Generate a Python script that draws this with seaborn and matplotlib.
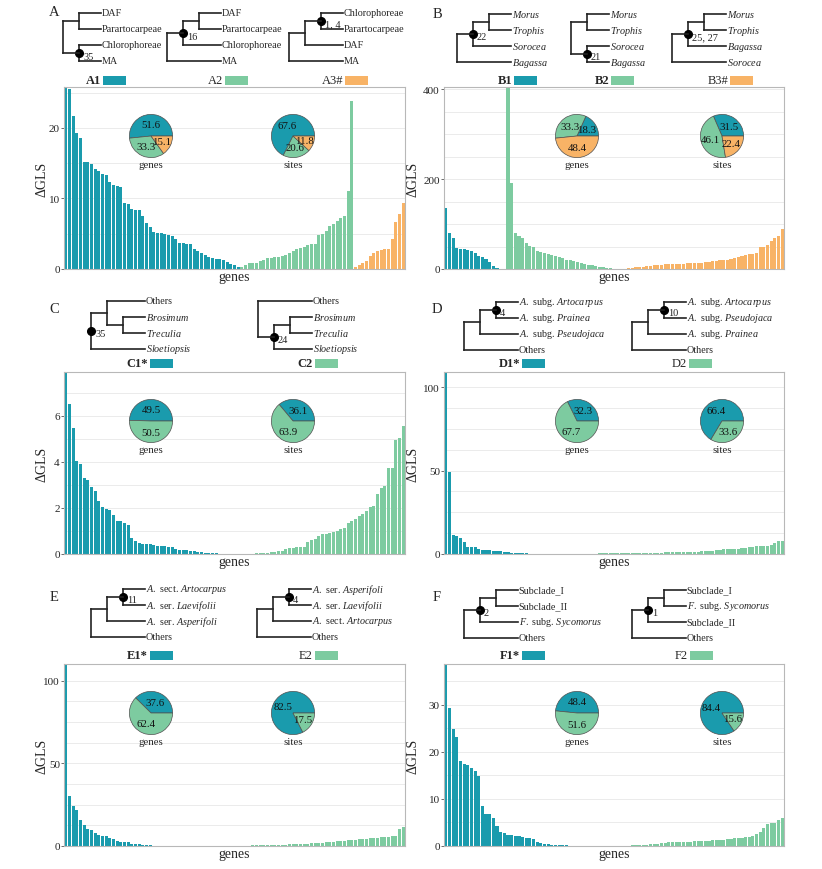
import numpy as np
import pandas as pd
import seaborn as sns
import matplotlib.pyplot as plt
from matplotlib.ticker import MultipleLocator

sns.set_theme(style='white')
plt.rcParams['font.family'] = ['Liberation Serif', 'DejaVu Serif']
plt.rcParams['mathtext.fontset'] = 'custom'
plt.rcParams['mathtext.rm'] = 'Liberation Serif'
plt.rcParams['mathtext.it'] = 'Liberation Serif:italic'

W, H = 822, 870
TEAL, GREEN, ORANGE = '#1a9bad', '#7dcba0', '#f8b366'


def it(s):
    return r'$\mathit{' + s + '}$'


# ---- panel A ----
a_names = ['A1', 'A2', 'A3#']
a_bold = [True, False, False]
a1 = [25.8, 25.5, 21.7, 19.3, 18.6, 15.1, 15.1, 14.9, 14.2, 13.9,
      13.5, 13.3, 12.4, 11.9, 11.8, 11.6, 9.3, 9.2, 8.5, 8.4,
      8.4, 7.5, 6.5, 6.0, 5.2, 5.1, 5.1, 4.9, 4.8, 4.7,
      4.3, 3.7, 3.7, 3.6, 3.5, 2.9, 2.6, 2.3, 2.0, 1.7,
      1.5, 1.4, 1.4, 1.3, 1.0, 0.7, 0.5, 0.3]
a2 = [0.3, 0.5, 0.8, 0.85, 0.9, 1.1, 1.3, 1.5, 1.6, 1.7,
      1.75, 1.8, 2.0, 2.3, 2.5, 2.8, 3.0, 3.1, 3.4, 3.5,
      3.5, 4.8, 5.0, 5.4, 6.1, 6.4, 6.8, 7.2, 7.5, 11.0, 23.8]
a3 = [0.3, 0.6, 0.8, 1.2, 1.8, 2.2, 2.6, 2.7, 2.9, 2.9, 4.3, 6.7, 7.8, 9.3]
a_genes = [51.6, 33.3, 15.1]
a_sites = [67.6, 20.6, 11.8]
a_trees = [(('DAF', 'Parartocarpeae'), ('Chlorophoreae', 'MA')),
           ((('DAF', 'Parartocarpeae'), 'Chlorophoreae'), 'MA'),
           ((('Chlorophoreae', 'Parartocarpeae'), 'DAF'), 'MA')]
a_support = ['35', '16', '1, 4']
a_dot = [(1,), (0,), (0, 0)]

# ---- panel B ----
b_names = ['B1', 'B2', 'B3#']
b_bold = [True, True, False]
b1 = [135, 81, 70, 46, 45, 44, 42, 39, 35, 30, 26, 22, 15, 7, 2, 0.5, 0.2]
b2 = [405, 192, 80, 73, 68, 58, 52, 48, 40, 38, 36, 34, 32, 28, 27, 24,
      21, 19, 17, 16, 14, 12, 10, 8, 6, 5, 4, 3, 2, 1, 0.5]
b3 = [0.3, 0.8, 1.5, 2.5, 3.5, 4.5, 5.5, 6.5, 7.5, 8.5,
      9.5, 10, 10.5, 11, 11, 11.5, 12, 12, 12.5, 13,
      13, 13.5, 14, 14.5, 15, 17, 18, 19, 20, 21,
      22, 24, 26, 28, 31, 33, 33, 36, 49, 50,
      53, 63, 68, 74, 90]
b_genes = [18.3, 33.3, 48.4]
b_sites = [31.5, 46.1, 22.4]
b_trees = [(((it('Morus'), it('Trophis')), it('Sorocea')), it('Bagassa')),
           ((it('Morus'), it('Trophis')), (it('Sorocea'), it('Bagassa'))),
           (((it('Morus'), it('Trophis')), it('Bagassa')), it('Sorocea'))]
b_support = ['22', '21', '25, 27']
b_dot = [(0,), (1,), (0,)]

# ---- panel C ----
c_names = ['C1*', 'C2']
c_bold = [True, True]
c1 = [7.9, 6.5, 5.45, 4.05, 3.9, 3.3, 3.2, 2.9, 2.75, 2.3,
      2.05, 1.95, 1.9, 1.7, 1.45, 1.42, 1.35, 1.25, 0.7, 0.55,
      0.48, 0.45, 0.45, 0.43, 0.4, 0.36, 0.34, 0.33, 0.32, 0.32,
      0.2, 0.18, 0.17, 0.16, 0.14, 0.12, 0.1, 0.08, 0.06, 0.05,
      0.04, 0.03, 0.02, 0.01, 0.005, 0.003]
c2 = [0.001, 0.002, 0.003, 0.005, 0.01, 0.02, 0.03, 0.04, 0.05, 0.06,
      0.08, 0.1, 0.12, 0.15, 0.2, 0.25, 0.28, 0.3, 0.3, 0.32,
      0.5, 0.6, 0.65, 0.8, 0.85, 0.87, 0.9, 0.95, 1.0, 1.1,
      1.15, 1.35, 1.45, 1.5, 1.65, 1.75, 1.85, 2.05, 2.1, 2.6,
      2.85, 2.95, 3.75, 3.75, 4.95, 5.05, 5.55]
c_genes = [49.5, 50.5]
c_sites = [36.1, 63.9]
c_trees = [(('Others', (it('Brosimum'), it('Treculia'))), it('Sloetiopsis')),
           ('Others', ((it('Brosimum'), it('Treculia')), it('Sloetiopsis')))]
c_support = ['35', '24']
c_dot = [(), (1,)]

# ---- panel D ----
d_names = ['D1*', 'D2']
d_bold = [True, False]
d1 = [109, 49, 11.3, 10.5, 9.3, 7, 4.4, 4.2, 4.0, 2.8,
      2.6, 2.4, 2.2, 2.0, 1.8, 1.6, 1.3, 1.0, 0.8, 0.6,
      0.5, 0.4, 0.3, 0.2, 0.15, 0.1, 0.08, 0.05, 0.03, 0.01]
d2 = [0.01, 0.02, 0.03, 0.04, 0.05, 0.06, 0.08, 0.1, 0.12, 0.15,
      0.2, 0.25, 0.3, 0.3, 0.35, 0.4, 0.4, 0.45, 0.5, 0.5,
      0.55, 0.6, 0.6, 0.65, 0.7, 0.7, 0.75, 0.8, 0.8, 0.85,
      0.9, 0.9, 0.95, 1.0, 1.0, 1.1, 1.1, 1.2, 1.3, 1.4,
      1.5, 1.6, 1.8, 2.0, 2.2, 2.5, 2.8, 3.0, 3.0, 3.1,
      3.2, 3.4, 3.8, 4.2, 4.4, 4.5, 4.6, 4.8, 5.0, 5.5,
      6.3, 7.5, 8.0]
d_genes = [32.3, 67.7]
d_sites = [66.4, 33.6]
art = it('A.') + ' subg. ' + it('Artocarpus')
pra = it('A.') + ' subg. ' + it('Prainea')
pse = it('A.') + ' subg. ' + it('Pseudojaca')
d_trees = [(((art, pra), pse), 'Others'),
           (((art, pse), pra), 'Others')]
d_support = ['4', '10']
d_dot = [(0, 0), (0, 0)]

# ---- panel E ----
e_names = ['E1*', 'E2']
e_bold = [True, False]
e1 = [110, 30, 24, 22, 15.5, 12.5, 10.5, 9.5, 8, 6.5,
      6, 5.8, 5, 4, 3, 2.6, 2.4, 2.2, 1.5, 1.2,
      1.0, 0.8, 0.6, 0.4, 0.3, 0.2, 0.15, 0.1, 0.08, 0.06,
      0.04, 0.03, 0.02, 0.01, 0.005]
e2 = [0.01, 0.02, 0.03, 0.04, 0.05, 0.06, 0.08, 0.1, 0.12, 0.15,
      0.18, 0.2, 0.22, 0.25, 0.3, 0.3, 0.35, 0.4, 0.45, 0.5,
      0.55, 0.6, 0.65, 0.7, 0.8, 0.9, 1.0, 1.1, 1.2, 1.3,
      1.4, 1.5, 1.6, 1.7, 1.8, 2.0, 2.2, 2.4, 2.6, 2.8,
      3.0, 3.2, 3.4, 3.6, 3.8, 4.0, 4.2, 4.4, 4.6, 4.8,
      5.0, 5.2, 5.4, 5.6, 5.8, 6.0, 10.0, 11.5]
e_genes = [37.6, 62.4]
e_sites = [82.5, 17.5]
sart = it('A.') + ' sect. ' + it('Artocarpus')
lae = it('A.') + ' ser. ' + it('Laevifolii')
asp = it('A.') + ' ser. ' + it('Asperifoli')
e_trees = [(((sart, lae), asp), 'Others'),
           (((asp, lae), sart), 'Others')]
e_support = ['11', '4']
e_dot = [(0, 0), (0, 0)]

# ---- panel F ----
f_names = ['F1*', 'F2']
f_bold = [True, False]
f1 = [38.6, 29.2, 24.8, 23.2, 18, 17.4, 17.2, 16.5, 15.9, 14.8,
      8.4, 6.8, 6.7, 5.9, 4.3, 2.9, 2.7, 2.4, 2.3, 2.2,
      2.1, 1.9, 1.7, 1.6, 1.5, 0.9, 0.7, 0.5, 0.4, 0.3,
      0.25, 0.2, 0.15, 0.12, 0.1, 0.08, 0.06, 0.05, 0.04, 0.03,
      0.02, 0.015, 0.01, 0.005, 0.002]
f2 = [0.01, 0.02, 0.03, 0.05, 0.07, 0.1, 0.12, 0.15, 0.2, 0.25,
      0.3, 0.35, 0.4, 0.5, 0.6, 0.7, 0.75, 0.8, 0.8, 0.85,
      0.9, 0.9, 0.95, 1.0, 1.0, 1.05, 1.1, 1.1, 1.2, 1.2,
      1.25, 1.3, 1.4, 1.5, 1.6, 1.7, 1.8, 1.9, 2.0, 2.2,
      2.5, 3.0, 3.8, 4.6, 4.8, 4.9, 5.5, 6.0]
f_genes = [48.4, 51.6]
f_sites = [84.4, 15.6]
syc = it('F.') + ' subg. ' + it('Sycomorus')
f_trees = [((('Subclade_I', 'Subclade_II'), syc), 'Others'),
           ((('Subclade_I', syc), 'Subclade_II'), 'Others')]
f_support = ['2', '1']
f_dot = [(0,), (0,)]

colors = [TEAL, GREEN, ORANGE]

# layout in pixels
panels = [
    dict(letter='A', lpos=(54, 12), box=(64, 88, 405, 270), series=[a1, a2, a3],
         names=a_names, bold=a_bold, genes=a_genes, sites=a_sites,
         trees=a_trees, support=a_support, dots=a_dot, roots=[63, 167, 289], ytop=14,
         legx=[103, 225, 345], legy=81, major=10, minor=5),
    dict(letter='B', lpos=(437, 14), box=(444, 88, 784, 270), series=[b1, b2, b3],
         names=b_names, bold=b_bold, genes=b_genes, sites=b_sites,
         trees=b_trees, support=b_support, dots=b_dot, roots=[457, 571, 672], ytop=15,
         legx=[514, 611, 730], legy=81, major=200, minor=50),
    dict(letter='C', lpos=(54, 310), box=(64, 373, 405, 555), series=[c1, c2],
         names=c_names, bold=c_bold, genes=c_genes, sites=c_sites,
         trees=c_trees, support=c_support, dots=c_dot, roots=[91, 258], ytop=302,
         legx=[150, 315], legy=364, major=2, minor=1),
    dict(letter='D', lpos=(437, 310), box=(444, 373, 784, 555), series=[d1, d2],
         names=d_names, bold=d_bold, genes=d_genes, sites=d_sites,
         trees=d_trees, support=d_support, dots=d_dot, roots=[464, 632], ytop=303,
         legx=[522, 689], legy=364, major=50, minor=12.5),
    dict(letter='E', lpos=(54, 598), box=(64, 665, 405, 847), series=[e1, e2],
         names=e_names, bold=e_bold, genes=e_genes, sites=e_sites,
         trees=e_trees, support=e_support, dots=e_dot, roots=[91, 257], ytop=590,
         legx=[150, 315], legy=656, major=50, minor=12.5),
    dict(letter='F', lpos=(437, 598), box=(444, 665, 784, 847), series=[f1, f2],
         names=f_names, bold=f_bold, genes=f_genes, sites=f_sites,
         trees=f_trees, support=f_support, dots=f_dot, roots=[464, 632], ytop=591,
         legx=[522, 690], legy=656, major=10, minor=5),
]

fig = plt.figure(figsize=(W / 100, H / 100), dpi=100)


def px_axes(x0, y0, x1, y1):
    return fig.add_axes([x0 / W, 1 - y1 / H, (x1 - x0) / W, (y1 - y0) / H])


def draw_tree(ax, tree, x0, y0, dot_path, support, step=16, tip=22, gap=16):
    def deepest(n, d=0):
        if isinstance(n, tuple):
            return max([d] + [deepest(c, d + 1) for c in n])
        return 0
    x_end = x0 + deepest(tree) * step + tip
    count = [0]

    def place(n, depth, path):
        if not isinstance(n, tuple):
            y = y0 + count[0] * gap
            count[0] += 1
            ax.text(x_end + 0.5, y, n, fontsize=7.3, va='center', ha='left')
            return x_end, y
        pts = [place(c, depth + 1, path + (i,)) for i, c in enumerate(n)]
        x = x0 + depth * step
        ys = [p[1] for p in pts]
        ax.plot([x, x], [min(ys), max(ys)], color='#222222', lw=1.2,
                solid_capstyle='projecting')
        for cx, cy in pts:
            ax.plot([x, cx], [cy, cy], color='#222222', lw=1.2,
                    solid_capstyle='projecting')
        y = (min(ys) + max(ys)) / 2
        if path == dot_path:
            ax.plot(x, y, 'o', color='black', ms=5.5)
            ax.text(x + 4, y + 3, support, fontsize=7.5, va='center', ha='left')
        return x, y

    place(tree, 0, ())


for p in panels:
    x0, y0, x1, y1 = p['box']
    rows = []
    for name, vals in zip(p['names'], p['series']):
        for v in vals:
            rows.append((name, v))
    df = pd.DataFrame(rows, columns=['topology', 'dgls'])
    df['gene'] = [f'g{i:03d}' for i in range(len(df))]
    topo_col = dict(zip(p['names'], colors))
    pal = dict(zip(df['gene'], df['topology'].map(topo_col)))

    ax = px_axes(x0, y0, x1, y1)
    sns.barplot(data=df, x='gene', y='dgls', hue='gene', palette=pal,
                width=0.86, errorbar=None, legend=False, saturation=1,
                linewidth=0, ax=ax)
    ax.set_ylim(0, df['dgls'].max())
    ax.set_xticks([])
    ax.yaxis.set_major_locator(MultipleLocator(p['major']))
    ax.yaxis.set_minor_locator(MultipleLocator(p['minor']))
    ax.grid(axis='y', which='both', color='#ebebeb', lw=0.7)
    ax.set_axisbelow(True)
    for s in ax.spines.values():
        s.set_color('#b8b8b8')
        s.set_linewidth(0.8)
    ax.tick_params(axis='y', which='major', length=2, width=0.6, color='#555555',
                   labelsize=8, pad=1, left=True)
    ax.tick_params(axis='y', which='minor', length=0)
    ax.set_ylabel('ΔGLS', fontsize=10)
    ax.set_xlabel('genes', fontsize=10, labelpad=1)
    lx = 48 if x0 < 300 else 419
    ax.yaxis.set_label_coords((lx - x0) / (x1 - x0), 0.5)

    # pies inside the bar panel
    pie_cx = [87, 229] if x0 < 300 else [133, 278]
    pie_cy = y0 + 49
    for cx, vals, lab in zip(pie_cx, [p['genes'], p['sites']], ['genes', 'sites']):
        r = 27
        pax = px_axes(x0 + cx - r, pie_cy - r, x0 + cx + r, pie_cy + r)
        pax.pie(vals, colors=colors[:len(vals)], startangle=0, counterclock=True,
                autopct=lambda v: f'{v:.1f}', pctdistance=0.55,
                wedgeprops=dict(edgecolor='#505050', linewidth=0.5),
                textprops=dict(fontsize=7.8, color='#111111'))
        pax.set_aspect('equal')
        pax.text(0, -1.32, lab, ha='center', va='center', fontsize=7.8,
                 clip_on=False)

overlay = fig.add_axes([0, 0, 1, 1])
overlay.set_xlim(0, W)
overlay.set_ylim(H, 0)
overlay.axis('off')
overlay.patch.set_visible(False)

for p in panels:
    overlay.text(p['lpos'][0], p['lpos'][1], p['letter'], fontsize=10.5,
                 ha='center', va='center')
    for tree, root, sup, dot in zip(p['trees'], p['roots'], p['support'], p['dots']):
        draw_tree(overlay, tree, root, p['ytop'], dot, sup)
    for name, bold, lx, col in zip(p['names'], p['bold'], p['legx'], colors):
        overlay.add_patch(plt.Rectangle((lx, p['legy'] - 4.5), 23, 9,
                                        facecolor=col, edgecolor='none'))
        overlay.text(lx - 2, p['legy'], name, fontsize=9, ha='right', va='center',
                     fontweight='bold' if bold else 'normal')

fig.savefig('out.png', dpi=100)
